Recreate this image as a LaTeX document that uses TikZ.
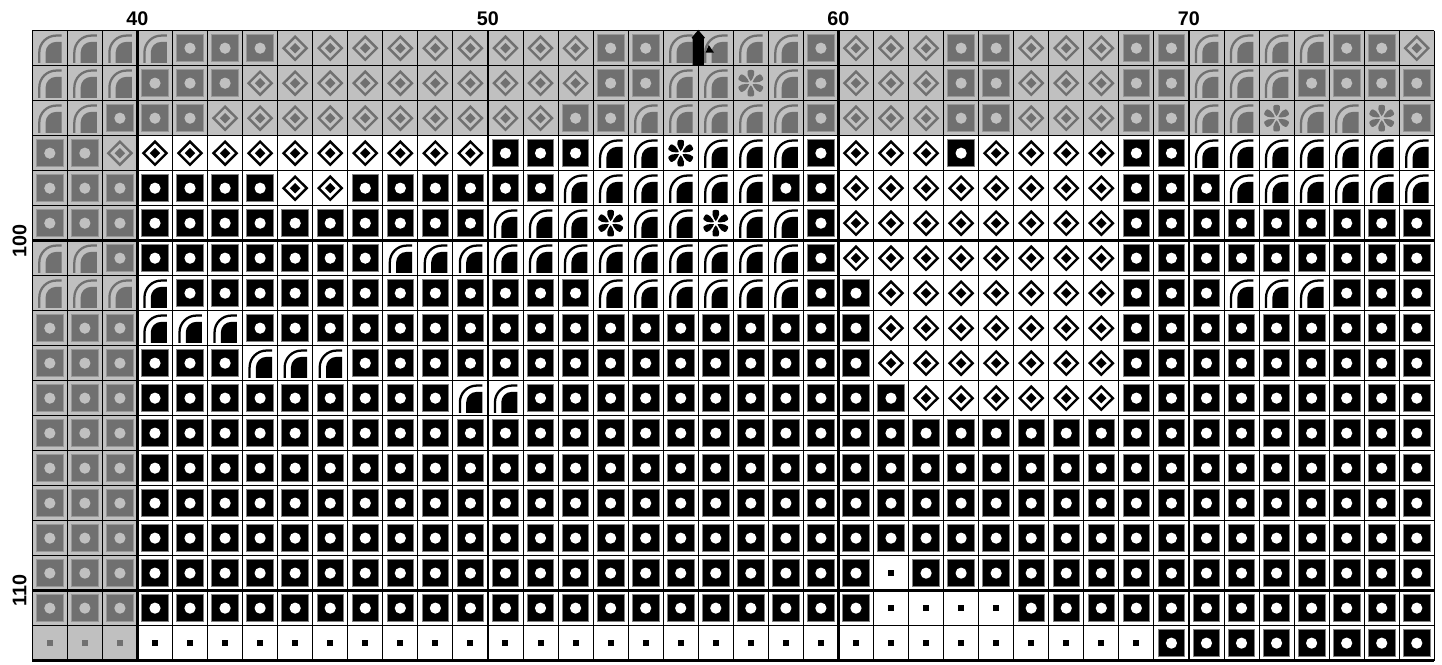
\documentclass[tikz,border=0pt]{standalone}
\usepackage{fontspec}
\setmainfont{Liberation Sans}
\definecolor{chartlight}{RGB}{192,192,192}
\definecolor{chartdark}{RGB}{112,112,112}
\newcommand{\graycell}{\colorlet{symfg}{chartdark}\colorlet{symbg}{chartlight}}
\newcommand{\inkcell}{\colorlet{symfg}{black}\colorlet{symbg}{white}}

\begin{document}
\begin{tikzpicture}[x=26.29pt, y=26.25pt,
  lab/.style={font=\fontsize{14.8}{17}\selectfont\bfseries, inner sep=0pt},
  gridline/.style={line width=0.75pt, black},
  major/.style={line width=2pt, black},
  pics/cellS/.style={code={
    \fill[symbg] (0,0) rectangle (1,1);
    \filldraw[fill=symfg, draw=symfg!50!symbg, line width=0.6pt] (0.12,0.12) rectangle (0.88,0.88);
    \fill[symbg] (0.5,0.5) circle (0.16);}},
  pics/cellD/.style={code={
    \fill[symbg] (0,0) rectangle (1,1);
    \draw[symfg, line width=1.8pt] (0.5,0.17) -- (0.83,0.5) -- (0.5,0.83) -- (0.17,0.5) -- cycle;
    \fill[symfg] (0.5,0.35) -- (0.65,0.5) -- (0.5,0.65) -- (0.35,0.5) -- cycle;}},
  pics/cellA/.style={code={
    \fill[symbg] (0,0) rectangle (1,1);
    \fill[symfg] (0.38,0.08) -- (0.38,0.38) arc[start angle=180, end angle=90, radius=0.3] -- (0.84,0.68) -- (0.84,0.08) -- cycle;
    \draw[symfg, line width=1.7pt] (0.2,0.08) -- (0.2,0.38) arc[start angle=180, end angle=90, radius=0.48] -- (0.84,0.86);}},
  pics/cellF/.style={code={
    \fill[symbg] (0,0) rectangle (1,1);
    \foreach \a in {30,90,150,210,270,330}
      \fill[symfg, shift={(0.5,0.5)}, rotate=\a] (0.06,0) .. controls (0.1,0.05) and (0.4,0.2) .. (0.38,0) .. controls (0.4,-0.2) and (0.1,-0.05) .. (0.06,0);}},
  pics/cellq/.style={code={
    \fill[symbg] (0,0) rectangle (1,1);
    \fill[symfg] (0.415,0.415) rectangle (0.585,0.585);}},
]
\useasboundingbox (-0.9215,-18.123) rectangle (40.22,0.877);
\fill[white] (-0.9215,-18.123) rectangle (40.22,0.877);

% cells, one row per line (columns 37 to 76)
\foreach \rowdata [count=\ry] in {
  {A,A,A,A,S,S,S,D,D,D,D,D,D,D,D,D,S,S,A,A,A,A,S,D,D,D,S,S,D,D,D,S,S,A,A,A,A,S,S,D},
  {A,A,A,S,S,S,D,D,D,D,D,D,D,D,D,D,S,S,A,A,F,A,S,D,D,D,S,S,D,D,D,S,S,A,A,A,S,S,S,S},
  {A,A,S,S,S,D,D,D,D,D,D,D,D,D,D,S,S,A,A,A,A,A,S,D,D,D,S,S,D,D,D,S,S,A,A,F,A,A,F,S},
  {S,S,D,D,D,D,D,D,D,D,D,D,D,S,S,S,A,A,F,A,A,A,S,D,D,D,S,D,D,D,D,S,S,A,A,A,A,A,A,A},
  {S,S,S,S,S,S,S,D,D,S,S,S,S,S,S,A,A,A,A,A,A,S,S,D,D,D,D,D,D,D,D,S,S,S,A,A,A,A,A,A},
  {S,S,S,S,S,S,S,S,S,S,S,S,S,A,A,A,F,A,A,F,A,A,S,D,D,D,D,D,D,D,D,S,S,S,S,S,S,S,S,S},
  {A,A,S,S,S,S,S,S,S,S,A,A,A,A,A,A,A,A,A,A,A,A,S,D,D,D,D,D,D,D,D,S,S,S,S,S,S,S,S,S},
  {A,A,A,A,S,S,S,S,S,S,S,S,S,S,S,S,A,A,A,A,A,A,S,S,D,D,D,D,D,D,D,S,S,S,A,A,A,S,S,S},
  {S,S,S,A,A,A,S,S,S,S,S,S,S,S,S,S,S,S,S,S,S,S,S,S,D,D,D,D,D,D,D,S,S,S,S,S,S,S,S,S},
  {S,S,S,S,S,S,A,A,A,S,S,S,S,S,S,S,S,S,S,S,S,S,S,S,D,D,D,D,D,D,D,S,S,S,S,S,S,S,S,S},
  {S,S,S,S,S,S,S,S,S,S,S,S,A,A,S,S,S,S,S,S,S,S,S,S,S,D,D,D,D,D,D,S,S,S,S,S,S,S,S,S},
  {S,S,S,S,S,S,S,S,S,S,S,S,S,S,S,S,S,S,S,S,S,S,S,S,S,S,S,S,S,S,S,S,S,S,S,S,S,S,S,S},
  {S,S,S,S,S,S,S,S,S,S,S,S,S,S,S,S,S,S,S,S,S,S,S,S,S,S,S,S,S,S,S,S,S,S,S,S,S,S,S,S},
  {S,S,S,S,S,S,S,S,S,S,S,S,S,S,S,S,S,S,S,S,S,S,S,S,S,S,S,S,S,S,S,S,S,S,S,S,S,S,S,S},
  {S,S,S,S,S,S,S,S,S,S,S,S,S,S,S,S,S,S,S,S,S,S,S,S,S,S,S,S,S,S,S,S,S,S,S,S,S,S,S,S},
  {S,S,S,S,S,S,S,S,S,S,S,S,S,S,S,S,S,S,S,S,S,S,S,S,q,S,S,S,S,S,S,S,S,S,S,S,S,S,S,S},
  {S,S,S,S,S,S,S,S,S,S,S,S,S,S,S,S,S,S,S,S,S,S,S,S,q,q,q,q,S,S,S,S,S,S,S,S,S,S,S,S},
  {q,q,q,q,q,q,q,q,q,q,q,q,q,q,q,q,q,q,q,q,q,q,q,q,q,q,q,q,q,q,q,q,S,S,S,S,S,S,S,S}%
}{
  \foreach \s [count=\cx from 0] in \rowdata {
    \ifnum\ry<4 \graycell\else\ifnum\cx<3 \graycell\else\inkcell\fi\fi
    \edef\placecell{\noexpand\pic at (\cx,-\ry) {cell\s};}\placecell
  }
}

% grid
\foreach \x in {0,...,40} \draw[gridline] (\x,0) -- (\x,-18);
\foreach \y in {0,...,18} \draw[gridline] (0,-\y) -- (40,-\y);
\foreach \x in {3,13,23,33} \draw[major] (\x,0) -- (\x,-18);
\draw[major] (0,-6) -- (40,-6);
\draw[major] (0,-16) -- (40,-16);
\draw[line width=2.4pt] (0,-18) -- (40,-18);

% marker arrow at the top
\fill[black] (19,0.02) -- (19.19,-0.2) -- (19.16,-0.23) -- (19.16,-1) -- (18.84,-1) -- (18.84,-0.23) -- (18.81,-0.2) -- cycle;
\fill[black] (19.30,-0.41) -- (19.45,-0.63) -- (19.21,-0.63) -- cycle;

% labels
\node[lab] (lab40) at (3,0.354) {40};
\node[lab] (lab50) at (13,0.354) {50};
\node[lab] (lab60) at (23,0.354) {60};
\node[lab] (lab70) at (33,0.354) {70};
\node[lab, rotate=90] (lab100) at (-0.36,-6) {100};
\node[lab, rotate=90] (lab110) at (-0.36,-16) {110};
\end{tikzpicture}
\end{document}
